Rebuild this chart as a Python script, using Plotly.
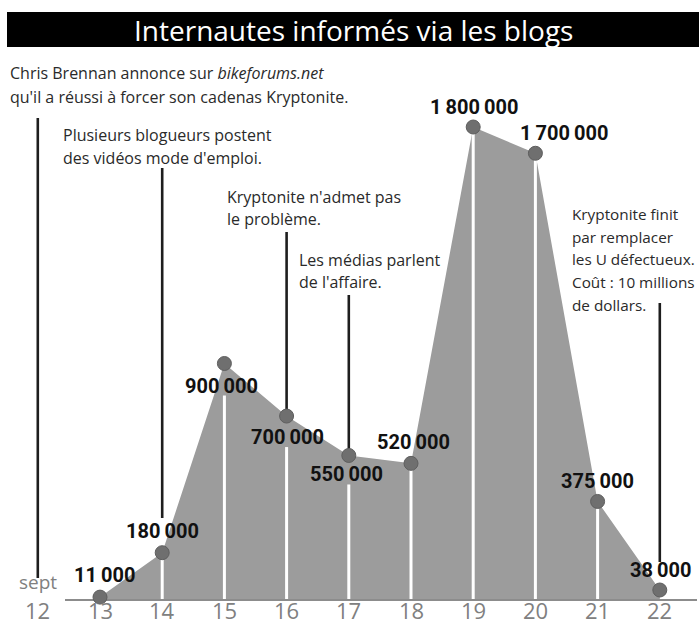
import plotly.graph_objects as go

# ---------------- data ----------------
days = [13, 14, 15, 16, 17, 18, 19, 20, 21, 22]
internautes = [11000, 180000, 900000, 700000, 550000, 520000, 1800000, 1700000, 375000, 38000]
tick_days = [12, 13, 14, 15, 16, 17, 18, 19, 20, 21, 22]
tick_labels = ["12", "13", "14", "15", "16", "17", "18", "19", "20", "21", "22"]
month_label = "sept"
title_text = "Internautes informés via les blogs"

events = [
    # (day the line points to, text lines)
    (12, ["Chris Brennan annonce sur <i>bikeforums.net</i>",
          "qu'il a réussi à forcer son cadenas Kryptonite."]),
    (14, ["Plusieurs blogueurs postent", "des vidéos mode d'emploi."]),
    (16, ["Kryptonite n'admet pas", "le problème."]),
    (17, ["Les médias parlent", "de l'affaire."]),
    (22, ["Kryptonite finit", "par remplacer", "les U défectueux.",
          "Coût : 10 millions", "de dollars."]),
]

# ---------------- geometry (pixel helpers) ----------------
W, H = 699, 626
X0_PX, X0_DAY, PX_PER_DAY = 100.0, 13.0, 62.2
BASE_PX, TOP_PX, TOP_VAL = 600.0, 127.0, 1800000.0
K = TOP_VAL / (BASE_PX - TOP_PX)


def day_of(px):
    return X0_DAY + (px - X0_PX) / PX_PER_DAY


def val_of(py):
    return (BASE_PX - py) * K


def py_of(v):
    return BASE_PX - v / K


x_range = [day_of(0), day_of(W)]
y_range = [val_of(H), val_of(0)]

# label offsets (px) relative to point: (dx, dy)
label_off = {13: (4, -22), 14: (0, -22), 15: (-3, 22), 16: (1, 21), 17: (-2, 19),
             18: (2, -21), 19: (1, -20), 20: (29, -20), 21: (0, -20), 22: (1, -20)}

GRAY_AREA = "#9c9c9c"
MARKER = "#6f6f6f"
INK = "#1e1e1e"
TICK_GRAY = "#808080"

fig = go.Figure()

# area
fig.add_trace(go.Scatter(x=days, y=internautes, mode="lines", fill="tozeroy",
                         fillcolor=GRAY_AREA, line=dict(width=0, color=GRAY_AREA),
                         hoverinfo="skip", showlegend=False))

# white drop lines
wx, wy = [], []
for d, v in zip(days, internautes):
    if d in (13, 22):
        continue
    dx, dy = label_off[d]
    top = v
    if dy > 0:
        top = val_of(py_of(v) + dy + 10)
    wx += [d, d, None]
    wy += [0, top, None]
fig.add_trace(go.Scatter(x=wx, y=wy, mode="lines", line=dict(color="white", width=3),
                         hoverinfo="skip", showlegend=False))

# black event lines: (day, top px, bottom px or None -> point)
vals = dict(zip(days, internautes))
event_lines = {12: (118, 578), 14: (168, 518), 16: (232, None), 17: (295, None), 22: (303, 562)}
bx, by = [], []
for d, _ in events:
    top_px, bot_px = event_lines[d]
    bot = vals[d] if bot_px is None else val_of(bot_px)
    bx += [d, d, None]
    by += [val_of(top_px), bot, None]
fig.add_trace(go.Scatter(x=bx, y=by, mode="lines", line=dict(color=INK, width=2.6),
                         hoverinfo="skip", showlegend=False))

# baseline
fig.add_trace(go.Scatter(x=[day_of(65), day_of(697)], y=[0, 0], mode="lines",
                         line=dict(color="#8c8c8c", width=2),
                         hoverinfo="skip", showlegend=False))

# markers
fig.add_trace(go.Scatter(x=days, y=internautes, mode="markers",
                         marker=dict(size=14, color=MARKER, line=dict(color="#5e5e5e", width=1)),
                         hoverinfo="skip", showlegend=False))

annotations = []

# value labels
for d, v in zip(days, internautes):
    dx, dy = label_off[d]
    txt = f"{v:,}".replace(",", "\u2009")
    annotations.append(dict(x=day_of(X0_PX + (d - X0_DAY) * PX_PER_DAY + dx), y=val_of(py_of(v) + dy),
                            xref="x", yref="y", text=txt, showarrow=False,
                            xanchor="center", yanchor="middle",
                            font=dict(family="Roboto", size=20, color="#111111", weight="bold")))

# tick labels
for d, t in zip(tick_days, tick_labels):
    annotations.append(dict(x=d, y=val_of(626), xref="x", yref="y", text=t, showarrow=False,
                            xanchor="center", yanchor="bottom", borderpad=0,
                            font=dict(family="Open Sans", size=22, color=TICK_GRAY)))
annotations.append(dict(x=tick_days[0], y=val_of(596), xref="x", yref="y", text=month_label,
                        showarrow=False, xanchor="center", yanchor="bottom", borderpad=0,
                        font=dict(family="Open Sans", size=19, color=TICK_GRAY)))

# event texts (left px, first line center px, spacing, font size)
text_pos = {12: (9, 73, 24, 16), 14: (62, 135, 23, 16), 16: (226, 197, 22, 16),
            17: (298, 260, 22, 16), 22: (571, 214, 22.7, 15.3)}
for d, lines in events:
    lx, ly, sp, fs = text_pos[d]
    for i, line in enumerate(lines):
        annotations.append(dict(x=day_of(lx), y=val_of(ly + i * sp), xref="x", yref="y",
                                text=line, showarrow=False, xanchor="left", yanchor="middle",
                                borderpad=0,
                                font=dict(family="Open Sans", size=fs, color="#2a2a2a")))

# title
annotations.append(dict(x=day_of(353), y=val_of(30), xref="x", yref="y", text=title_text,
                        showarrow=False, xanchor="center", yanchor="middle",
                        font=dict(family="Open Sans", size=28, color="white")))

shapes = [dict(type="rect", xref="x", yref="y", x0=day_of(7), x1=day_of(W + 5),
               y0=val_of(47), y1=val_of(12), fillcolor="black", line=dict(width=0), layer="below")]

fig.update_layout(
    width=W, height=H, margin=dict(l=0, r=0, t=0, b=0),
    paper_bgcolor="white", plot_bgcolor="white",
    xaxis=dict(range=x_range, visible=False, fixedrange=True),
    yaxis=dict(range=y_range, visible=False, fixedrange=True),
    annotations=annotations, shapes=shapes, showlegend=False,
)

fig.write_html("out.html", config={"displayModeBar": False},
               post_script="document.body.style.margin='0';")
